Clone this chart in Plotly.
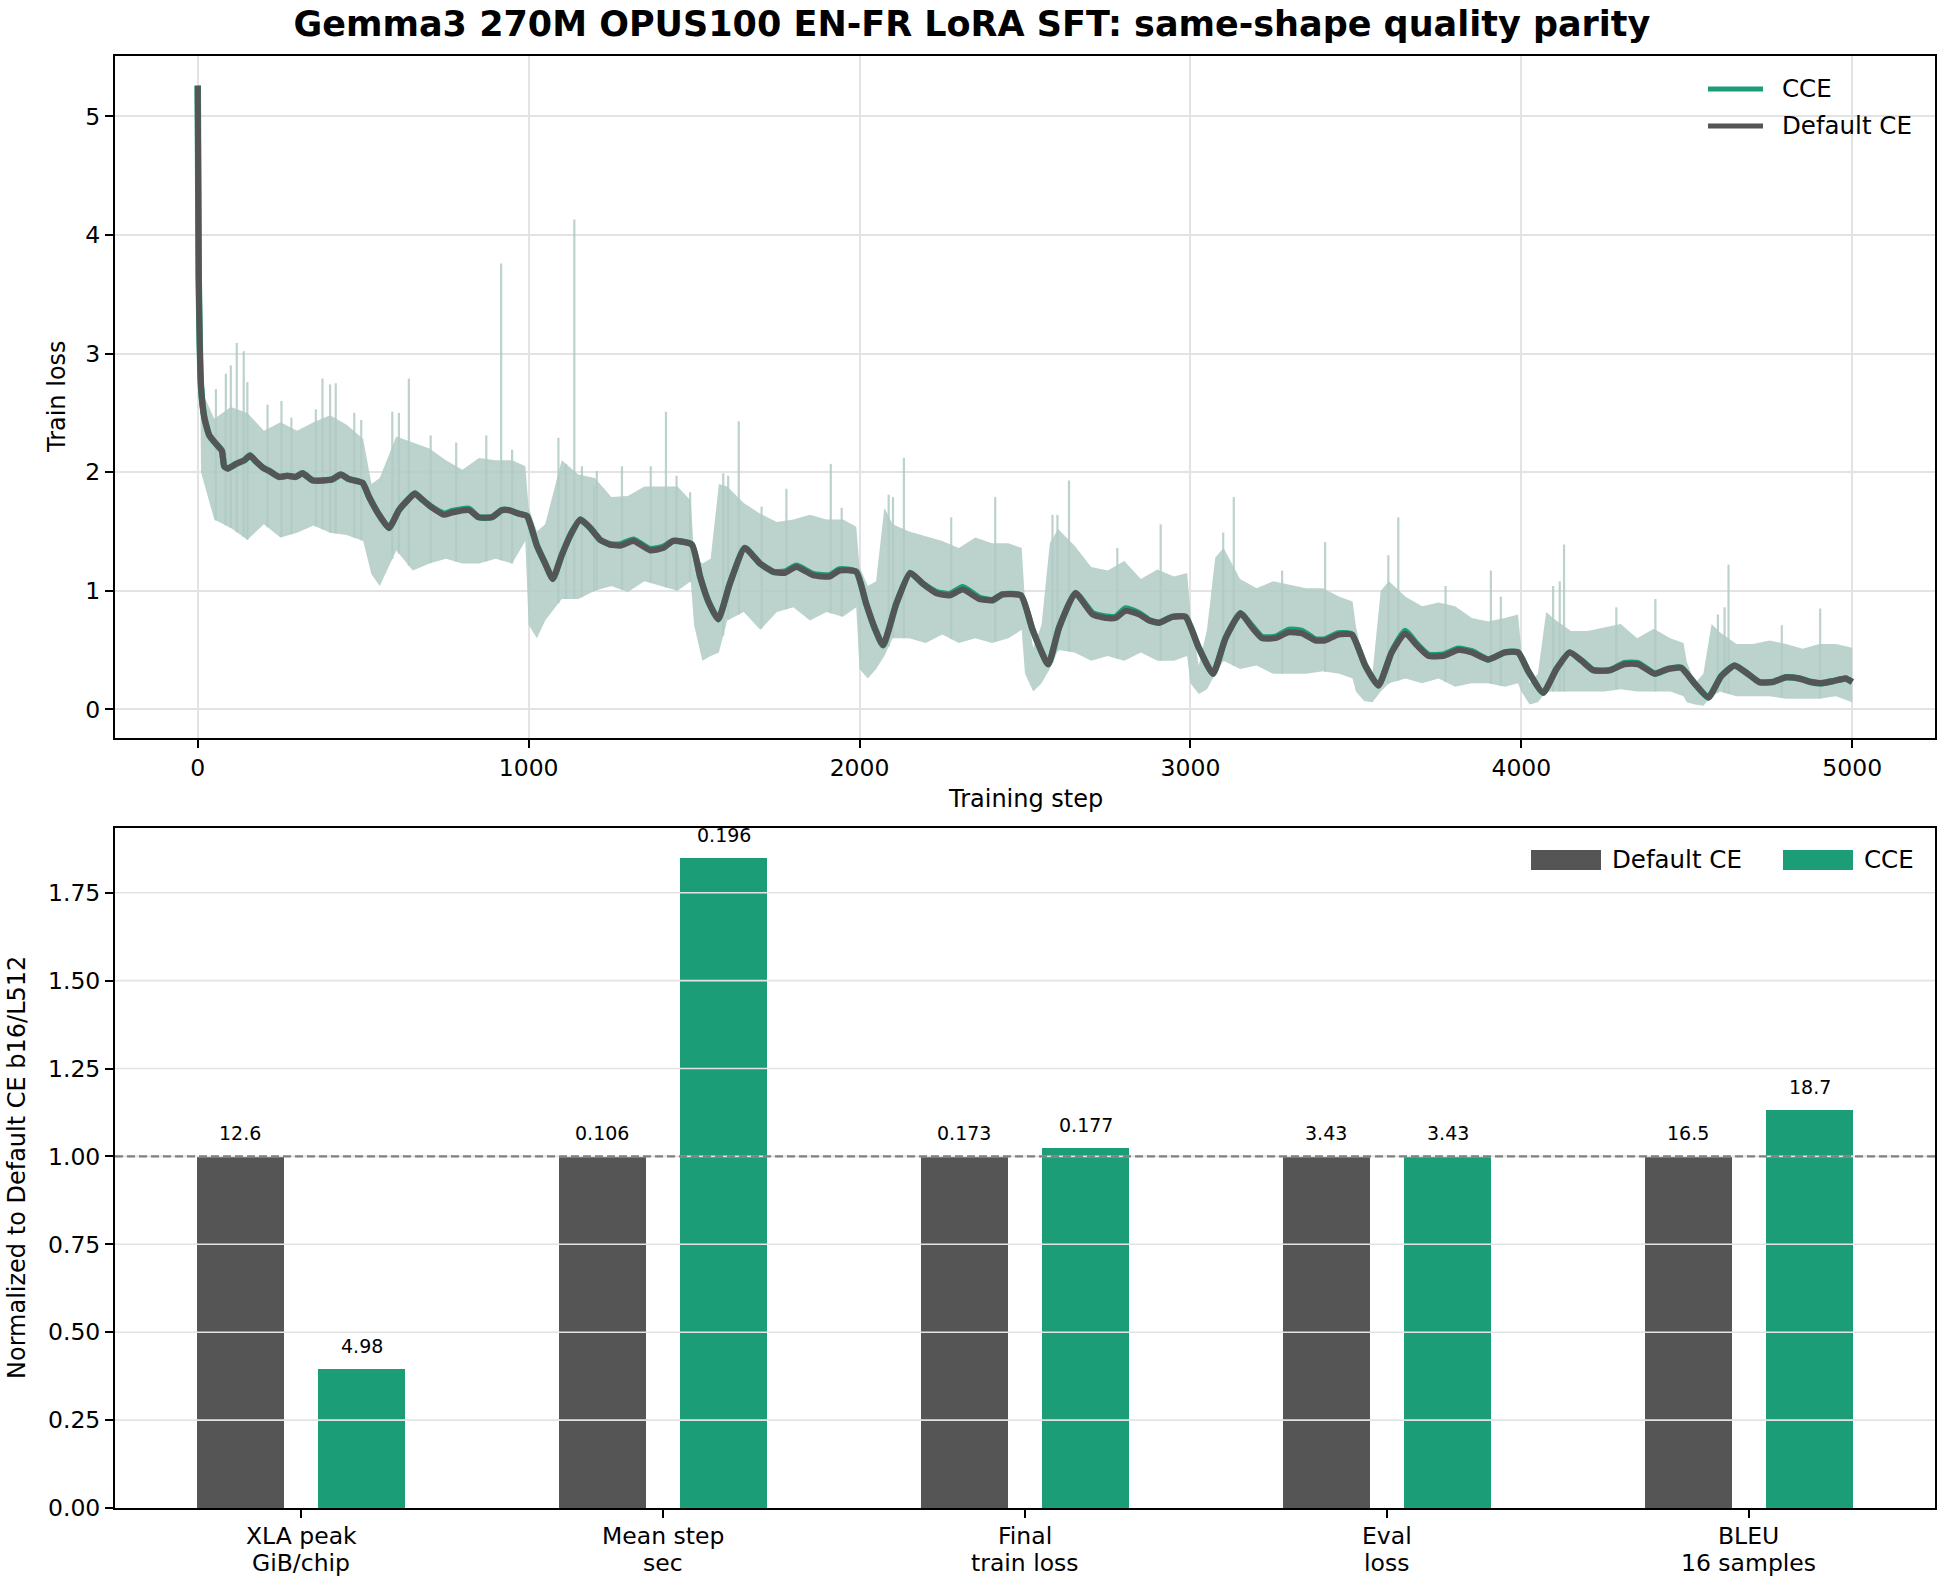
import numpy as np
import plotly.graph_objects as go

# ---------------- data: top panel (train loss) ----------------
smooth_steps = [0, 3, 10, 20, 35, 55, 73, 80, 90, 116, 141, 158, 176, 196, 216, 246, 271, 296, 317, 347,
                377, 407, 432, 458, 498, 518, 548, 578, 608, 633, 656, 678, 704, 744, 769, 819, 849, 889,
                919, 940, 970, 995, 1025, 1050, 1073, 1100, 1130, 1156, 1186, 1216, 1246, 1277, 1317,
                1367, 1407, 1437, 1493, 1518, 1543, 1573, 1608, 1653, 1699, 1739, 1774, 1809, 1860, 1910,
                1940, 1990, 2020, 2045, 2071, 2111, 2153, 2191, 2231, 2272, 2312, 2362, 2402, 2432, 2488,
                2523, 2570, 2603, 2652, 2704, 2744, 2774, 2804, 2845, 2875, 2905, 2945, 2985, 3025, 3068,
                3106, 3151, 3186, 3216, 3257, 3297, 3337, 3377, 3407, 3447, 3488, 3528, 3568, 3608, 3649,
                3684, 3719, 3764, 3809, 3849, 3900, 3950, 3990, 4021, 4066, 4106, 4146, 4182, 4217, 4267,
                4312, 4352, 4403, 4443, 4483, 4523, 4565, 4604, 4644, 4684, 4719, 4759, 4800, 4840, 4875,
                4905, 4945, 4980, 5000]
smooth_default = [5.26, 3.65, 2.72, 2.46, 2.31, 2.24, 2.18, 2.05, 2.03, 2.07, 2.10, 2.14, 2.09, 2.04, 2.01,
                  1.96, 1.97, 1.96, 1.99, 1.93, 1.93, 1.94, 1.98, 1.94, 1.91, 1.79, 1.64, 1.53, 1.68, 1.76,
                  1.82, 1.77, 1.71, 1.64, 1.66, 1.68, 1.62, 1.62, 1.68, 1.68, 1.65, 1.63, 1.38, 1.23, 1.10,
                  1.30, 1.49, 1.60, 1.53, 1.43, 1.39, 1.38, 1.42, 1.34, 1.36, 1.42, 1.39, 1.12, 0.91, 0.76,
                  1.06, 1.36, 1.23, 1.16, 1.15, 1.20, 1.13, 1.12, 1.17, 1.16, 0.89, 0.69, 0.54, 0.89, 1.15,
                  1.06, 0.98, 0.96, 1.01, 0.93, 0.92, 0.97, 0.96, 0.67, 0.38, 0.69, 0.98, 0.80, 0.77, 0.77,
                  0.83, 0.80, 0.75, 0.73, 0.78, 0.78, 0.52, 0.30, 0.60, 0.81, 0.69, 0.60, 0.60, 0.65, 0.64,
                  0.58, 0.58, 0.63, 0.63, 0.37, 0.20, 0.48, 0.64, 0.54, 0.45, 0.45, 0.50, 0.48, 0.42, 0.48,
                  0.48, 0.32, 0.14, 0.34, 0.48, 0.41, 0.33, 0.33, 0.38, 0.38, 0.30, 0.34, 0.35, 0.22, 0.10,
                  0.28, 0.37, 0.30, 0.23, 0.23, 0.27, 0.26, 0.23, 0.22, 0.24, 0.26, 0.23]
smooth_cce = [5.26, 3.65, 2.72, 2.46, 2.31, 2.24, 2.18, 2.05, 2.03, 2.07, 2.10, 2.14, 2.09, 2.04, 2.01,
              1.96, 1.97, 1.96, 1.99, 1.93, 1.93, 1.94, 1.98, 1.94, 1.91, 1.79, 1.64, 1.53, 1.68, 1.76,
              1.82, 1.77, 1.71, 1.65, 1.67, 1.69, 1.62, 1.62, 1.68, 1.68, 1.65, 1.63, 1.38, 1.23, 1.10,
              1.30, 1.49, 1.60, 1.53, 1.43, 1.39, 1.39, 1.43, 1.35, 1.37, 1.42, 1.39, 1.12, 0.91, 0.76,
              1.06, 1.36, 1.23, 1.16, 1.16, 1.21, 1.14, 1.13, 1.18, 1.16, 0.89, 0.69, 0.54, 0.89, 1.15,
              1.06, 0.99, 0.97, 1.03, 0.94, 0.92, 0.97, 0.96, 0.67, 0.38, 0.69, 0.98, 0.81, 0.78, 0.78,
              0.85, 0.81, 0.75, 0.73, 0.78, 0.78, 0.52, 0.30, 0.60, 0.81, 0.70, 0.61, 0.61, 0.67, 0.66,
              0.59, 0.59, 0.64, 0.63, 0.37, 0.20, 0.48, 0.66, 0.55, 0.46, 0.46, 0.51, 0.49, 0.42, 0.48,
              0.48, 0.32, 0.14, 0.34, 0.48, 0.41, 0.33, 0.33, 0.39, 0.39, 0.30, 0.34, 0.35, 0.22, 0.10,
              0.28, 0.37, 0.30, 0.23, 0.23, 0.27, 0.26, 0.23, 0.22, 0.24, 0.26, 0.23]

raw_steps = [0, 10, 50, 100, 150, 200, 250, 300, 350, 400, 450, 500, 525, 550, 600, 650, 700, 750, 800,
             850, 900, 950, 990, 1000, 1025, 1050, 1100, 1150, 1200, 1250, 1300, 1350, 1400, 1450, 1490,
             1500, 1525, 1550, 1575, 1600, 1650, 1700, 1750, 1800, 1850, 1900, 1950, 1990, 2000, 2025,
             2050, 2075, 2100, 2150, 2200, 2250, 2300, 2350, 2400, 2450, 2490, 2500, 2525, 2550, 2575,
             2600, 2650, 2700, 2750, 2800, 2850, 2900, 2950, 2990, 3000, 3025, 3050, 3075, 3100, 3150,
             3200, 3250, 3300, 3350, 3400, 3450, 3490, 3500, 3525, 3550, 3575, 3600, 3650, 3700, 3750,
             3800, 3850, 3900, 3950, 3990, 4000, 4025, 4050, 4075, 4100, 4150, 4200, 4250, 4300, 4350,
             4400, 4450, 4490, 4500, 4525, 4550, 4575, 4600, 4650, 4700, 4750, 4800, 4850, 4900, 4950,
             5000]
raw_hi = [5.26, 2.70, 2.45, 2.55, 2.50, 2.35, 2.42, 2.35, 2.42, 2.48, 2.40, 2.28, 1.90, 1.95, 2.30, 2.25,
          2.20, 2.10, 2.02, 2.12, 2.10, 2.10, 2.05, 1.70, 1.50, 1.56, 2.10, 1.98, 1.95, 1.79, 1.80, 1.88,
          1.88, 1.88, 1.76, 1.30, 1.23, 1.27, 1.90, 1.88, 1.74, 1.65, 1.58, 1.60, 1.64, 1.60, 1.60, 1.54,
          1.20, 1.04, 1.08, 1.70, 1.56, 1.50, 1.46, 1.42, 1.36, 1.45, 1.40, 1.40, 1.36, 0.90, 0.52, 0.71,
          1.40, 1.52, 1.38, 1.20, 1.17, 1.25, 1.10, 1.18, 1.12, 1.15, 0.80, 0.37, 0.67, 1.28, 1.36, 1.10,
          1.02, 1.08, 1.05, 1.02, 1.02, 0.95, 0.91, 0.70, 0.37, 0.30, 1.00, 1.08, 0.95, 0.87, 0.90, 0.87,
          0.77, 0.74, 0.77, 0.80, 0.50, 0.22, 0.30, 0.82, 0.76, 0.66, 0.66, 0.69, 0.72, 0.60, 0.68, 0.60,
          0.56, 0.40, 0.22, 0.30, 0.72, 0.65, 0.55, 0.55, 0.58, 0.55, 0.51, 0.55, 0.55, 0.52]
raw_lo = [5.00, 2.00, 1.60, 1.53, 1.43, 1.56, 1.45, 1.49, 1.55, 1.49, 1.47, 1.42, 1.14, 1.04, 1.34, 1.17,
          1.23, 1.27, 1.23, 1.23, 1.27, 1.23, 1.42, 0.71, 0.60, 0.75, 0.93, 0.93, 1.00, 1.04, 0.99, 1.08,
          1.04, 1.00, 1.08, 0.71, 0.41, 0.45, 0.48, 0.75, 0.82, 0.67, 0.82, 0.86, 0.75, 0.82, 0.78, 0.86,
          0.34, 0.26, 0.34, 0.45, 0.60, 0.60, 0.56, 0.63, 0.56, 0.60, 0.56, 0.60, 0.67, 0.30, 0.15, 0.22,
          0.34, 0.50, 0.48, 0.41, 0.45, 0.41, 0.48, 0.41, 0.41, 0.45, 0.22, 0.13, 0.17, 0.30, 0.41, 0.34,
          0.37, 0.30, 0.30, 0.30, 0.32, 0.30, 0.26, 0.15, 0.07, 0.06, 0.15, 0.22, 0.26, 0.22, 0.26, 0.19,
          0.22, 0.22, 0.19, 0.22, 0.15, 0.04, 0.06, 0.15, 0.15, 0.15, 0.15, 0.15, 0.17, 0.15, 0.15, 0.15,
          0.11, 0.06, 0.04, 0.03, 0.11, 0.15, 0.11, 0.11, 0.11, 0.09, 0.09, 0.09, 0.11, 0.06]

spike_steps = [55, 85, 100, 118, 139, 150, 211, 253, 283, 357, 377, 400, 417, 473, 494, 588, 608, 638, 704,
               781, 872, 917, 950, 1090, 1113, 1138, 1161, 1198, 1206, 1282, 1369, 1415, 1447, 1488, 1588,
               1603, 1635, 1704, 1779, 1913, 1946, 2088, 2101, 2134, 2277, 2410, 2583, 2598, 2633, 2779,
               2910, 3099, 3131, 3277, 3407, 3598, 3628, 3771, 3908, 3938, 4096, 4116, 4129, 4287, 4405,
               4594, 4614, 4626, 4787, 4903]
spike_peaks = [2.70, 2.83, 2.90, 3.09, 3.02, 2.76, 2.57, 2.60, 2.46, 2.53, 2.79, 2.74, 2.75, 2.50, 2.44,
               2.51, 2.50, 2.79, 2.31, 2.25, 2.31, 3.76, 2.19, 2.29, 2.07, 4.13, 2.05, 1.88, 2.01, 2.05,
               2.05, 2.51, 1.97, 1.83, 1.99, 1.97, 2.43, 1.71, 1.86, 2.07, 1.70, 1.81, 1.79, 2.12, 1.62,
               1.79, 1.64, 1.64, 1.93, 1.36, 1.56, 1.49, 1.79, 1.17, 1.41, 1.30, 1.62, 1.04, 1.17, 0.95,
               1.04, 1.08, 1.39, 0.86, 0.93, 0.80, 0.86, 1.22, 0.71, 0.85]

x_ticks_top = [0, 1000, 2000, 3000, 4000, 5000]
y_ticks_top = [0, 1, 2, 3, 4, 5]

# ---------------- data: bottom panel (normalized metrics) ----------------
metric_line1 = ["XLA peak", "Mean step", "Final", "Eval", "BLEU"]
metric_line2 = ["GiB/chip", "sec", "train loss", "loss", "16 samples"]
default_vals = [12.6, 0.106, 0.173, 3.43, 16.5]
cce_vals = [4.98, 0.196, 0.177, 3.43, 18.7]
y_ticks_bottom = [0.0, 0.25, 0.5, 0.75, 1.0, 1.25, 1.5, 1.75]

# ---------------- styling ----------------
GREEN = "#1b9e77"
GRAY = "#555555"
BAND = "rgba(176,202,196,0.85)"
GRID = "#e3e3e3"
FONT = "DejaVu Sans"

W, H = 1944, 1584
L, R, T, B = 115, 1935, 56, 1508
TOP_BOTTOM = 738      # pixel y of the top panel's lower spine
BOT_TOP = 828         # pixel y of the bottom panel's upper spine


def fx(p):
    return (p - L) / (R - L)


def fy(p):
    return (B - p) / (B - T)


fig = go.Figure()

# raw loss band (envelope of the dense raw trace)
fig.add_trace(go.Scatter(
    x=raw_steps + raw_steps[::-1], y=raw_hi + raw_lo[::-1], fill="toself", fillcolor=BAND,
    mode="lines", line=dict(width=0), hoverinfo="skip", showlegend=False, xaxis="x", yaxis="y"))

# raw spikes
sx, sy = [], []
for s, p in zip(spike_steps, spike_peaks):
    base = float(np.interp(s, raw_steps, raw_lo))
    sx += [s, s, None]
    sy += [base, p, None]
fig.add_trace(go.Scatter(x=sx, y=sy, mode="lines", line=dict(color=BAND, width=2.2),
                         hoverinfo="skip", showlegend=False, xaxis="x", yaxis="y"))

fig.add_trace(go.Scatter(x=smooth_steps, y=smooth_cce, mode="lines", name="CCE",
                         line=dict(color=GREEN, width=6.5, shape="spline", smoothing=0.5),
                         showlegend=False, xaxis="x", yaxis="y"))
fig.add_trace(go.Scatter(x=smooth_steps, y=smooth_default, mode="lines", name="Default CE",
                         line=dict(color=GRAY, width=6, shape="spline", smoothing=0.5),
                         showlegend=False, xaxis="x", yaxis="y"))

# bars
n = len(metric_line1)
pos = list(range(n))
norm_default = [d / d for d in default_vals]
norm_cce = [c / d for c, d in zip(cce_vals, default_vals)]
off, bw = 0.168, 0.24
fig.add_trace(go.Bar(x=[p - off for p in pos], y=norm_default, width=bw,
                     marker=dict(color=GRAY, line=dict(width=0)),
                     name="Default CE", showlegend=False, xaxis="x2", yaxis="y2"))
fig.add_trace(go.Bar(x=[p + off for p in pos], y=norm_cce, width=bw,
                     marker=dict(color=GREEN, line=dict(width=0)),
                     name="CCE", showlegend=False, xaxis="x2", yaxis="y2"))

annotations = []
for p, v, nv in zip(pos, default_vals, norm_default):
    annotations.append(dict(x=p - off, y=nv, xref="x2", yref="y2", text=f"{v:g}", showarrow=False,
                            yanchor="middle", yshift=23, font=dict(family=FONT, size=19, color="black")))
for p, v, nv in zip(pos, cce_vals, norm_cce):
    annotations.append(dict(x=p + off, y=nv, xref="x2", yref="y2", text=f"{v:g}", showarrow=False,
                            yanchor="middle", yshift=23, font=dict(family=FONT, size=19, color="black")))

# two-line category labels of the bottom axis
for p, l1, l2 in zip(pos, metric_line1, metric_line2):
    annotations.append(dict(x=p, y=fy(1536), xref="x2", yref="paper", text=l1, showarrow=False,
                            xanchor="center", yanchor="middle", font=dict(family=FONT, size=23.5, color="black")))
    annotations.append(dict(x=p, y=fy(1563), xref="x2", yref="paper", text=l2, showarrow=False,
                            xanchor="center", yanchor="middle", font=dict(family=FONT, size=23.5, color="black")))

# axis titles
annotations.append(dict(x=fx(1025), y=fy(799), xref="paper", yref="paper", text="Training step",
                        showarrow=False, xanchor="center", yanchor="middle",
                        font=dict(family=FONT, size=24, color="black")))
annotations.append(dict(x=fx(57), y=fy(397), xref="paper", yref="paper", text="Train loss", textangle=-90,
                        showarrow=False, xanchor="center", yanchor="middle",
                        font=dict(family=FONT, size=24, color="black")))
annotations.append(dict(x=fx(17), y=fy(1168), xref="paper", yref="paper",
                        text="Normalized to Default CE b16/L512", textangle=-90,
                        showarrow=False, xanchor="center", yanchor="middle",
                        font=dict(family=FONT, size=24, color="black")))

# legends (drawn by hand to match swatch shapes)
shapes = []
shapes.append(dict(type="line", xref="paper", yref="paper", x0=fx(1708), x1=fx(1763), y0=fy(89), y1=fy(89),
                   line=dict(color=GREEN, width=5)))
shapes.append(dict(type="line", xref="paper", yref="paper", x0=fx(1708), x1=fx(1763), y0=fy(126), y1=fy(126),
                   line=dict(color=GRAY, width=5)))
annotations.append(dict(x=fx(1780), y=fy(89), xref="paper", yref="paper", text="CCE", showarrow=False,
                        xanchor="left", yanchor="middle", font=dict(family=FONT, size=24.5, color="black")))
annotations.append(dict(x=fx(1780), y=fy(126), xref="paper", yref="paper", text="Default CE", showarrow=False,
                        xanchor="left", yanchor="middle", font=dict(family=FONT, size=24.5, color="black")))

shapes.append(dict(type="rect", xref="paper", yref="paper", x0=fx(1531), x1=fx(1601), y0=fy(870), y1=fy(850),
                   fillcolor=GRAY, line=dict(width=0)))
shapes.append(dict(type="rect", xref="paper", yref="paper", x0=fx(1783), x1=fx(1853), y0=fy(870), y1=fy(850),
                   fillcolor=GREEN, line=dict(width=0)))
annotations.append(dict(x=fx(1610), y=fy(860), xref="paper", yref="paper", text="Default CE", showarrow=False,
                        xanchor="left", yanchor="middle", font=dict(family=FONT, size=24.5, color="black")))
annotations.append(dict(x=fx(1862), y=fy(860), xref="paper", yref="paper", text="CCE", showarrow=False,
                        xanchor="left", yanchor="middle", font=dict(family=FONT, size=24.5, color="black")))

# bottom gridlines drawn above bars (as in reference), then the dashed reference line
for yv in y_ticks_bottom[1:]:
    shapes.append(dict(type="line", xref="x2 domain", yref="y2", x0=0, x1=1, y0=yv, y1=yv,
                       line=dict(color=GRID, width=1.6), layer="above"))
shapes.append(dict(type="line", xref="x2 domain", yref="y2", x0=0, x1=1, y0=1.0, y1=1.0,
                   line=dict(color="#808080", width=2.2, dash="8px,4px"), layer="above"))

axis_common = dict(showline=True, linecolor="black", linewidth=2, mirror=True, ticks="outside",
                   ticklen=8, tickwidth=2, tickcolor="black", zeroline=False, automargin=False,
                   tickfont=dict(family=FONT, size=23.5, color="black"))

fig.update_layout(
    width=W, height=H, autosize=False,
    margin=dict(l=L, r=W - R, t=T, b=H - B, autoexpand=False),
    paper_bgcolor="white", plot_bgcolor="white",
    font=dict(family=FONT, color="black"),
    title=dict(text="<b>Gemma3 270M OPUS100 EN-FR LoRA SFT: same-shape quality parity</b>",
               x=0.5, xanchor="center", y=1 - 24 / H, yanchor="middle", yref="container",
               font=dict(family=FONT, size=35, color="black")),
    xaxis=dict(domain=[0, 1], anchor="y", range=[-250, 5250], tickvals=x_ticks_top,
               showgrid=True, gridcolor=GRID, gridwidth=1.6, **axis_common),
    yaxis=dict(domain=[fy(TOP_BOTTOM), 1], anchor="x", range=[-0.242, 5.51], tickvals=y_ticks_top,
               showgrid=True, gridcolor=GRID, gridwidth=1.6, **axis_common),
    xaxis2=dict(domain=[0, 1], anchor="y2", range=[-0.514, 4.514], tickvals=pos,
                showticklabels=False, showgrid=False, **axis_common),
    yaxis2=dict(domain=[0, fy(BOT_TOP)], anchor="x2", range=[0, 1.934], tickvals=y_ticks_bottom,
                tickformat=".2f", showgrid=False, **axis_common),
    bargap=0, showlegend=False,
    annotations=annotations, shapes=shapes,
)

fig.write_html("out.html")
